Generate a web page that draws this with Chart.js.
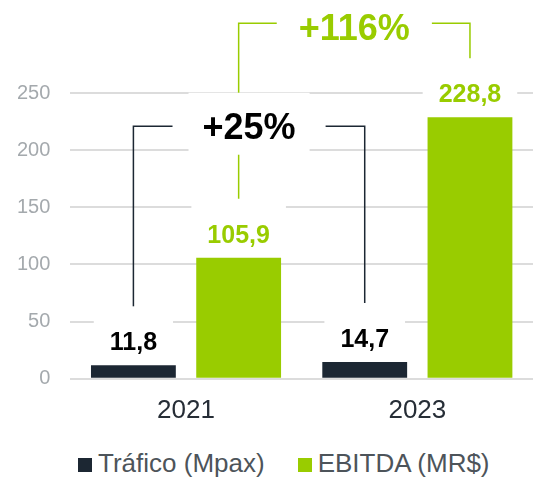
<!DOCTYPE html>
<html>
<head>
<meta charset="utf-8">
<script src="https://cdn.jsdelivr.net/npm/chart.js@4/dist/chart.umd.min.js"></script>
<style>
  html, body { margin: 0; padding: 0; background: #fff; }
  #wrap { position: relative; width: 533px; height: 478px; }
  #chart { position: absolute; left: 0; top: 0; }
  #legend {
    position: absolute; left: 78px; top: 448px;
    display: flex; align-items: center;
    font-family: "Liberation Sans", Arial, sans-serif; font-size: 26px; line-height: 30px;
    color: #4d545a;
  }
  #legend .item { display: flex; align-items: center; }
  #legend .box { width: 14px; height: 14px; margin-right: 6px; position: relative; top: 2px; }
  #legend .item + .item { margin-left: 33px; }
</style>
</head>
<body>
<div id="wrap">
  <canvas id="chart" width="533" height="442"></canvas>
  <div id="legend"></div>
</div>
<script>
// ---- data ----
const years = ['2021', '2023'];
const trafico = [11.8, 14.7];
const ebitda = [105.9, 228.8];
const seriesNames = ['Tráfico (Mpax)', 'EBITDA (MR$)'];
const yTicks = [0, 50, 100, 150, 200, 250];

const DARK = '#1c2733';
const GREEN = '#99cc00';
const FONT = '"Liberation Sans", Arial, sans-serif';

function fmt(v) {
    return v.toFixed(1).replace('.', ',');
}

function growth(arr) {
    return '+' + Math.round((arr[1] / arr[0] - 1) * 100) + '%';
}

// brackets joining the two bars of the same series (y in axis units)
const brackets = [
    { ds: 0, color: DARK, textColor: '#000', leftLeg: 60, rightLeg: 60, top: 221, textY: 210, gap: 30 },
    { ds: 1, color: GREEN, textColor: GREEN, leftLeg: 150, rightLeg: 276, top: 311, textY: 296, gap: 22 }
];

function whiteBox(ctx, x1, y1, x2, y2) {
    ctx.fillStyle = '#fff';
    ctx.fillRect(x1, y1, x2 - x1, y2 - y1);
}

const annotations = {
    id: 'annotations',
    afterDatasetsDraw(chart) {
        const ctx = chart.ctx;
        const y = chart.scales.y;
        ctx.save();

        // bracket lines
        const bracketTexts = [];
        brackets.forEach(b => {
            const bars = chart.getDatasetMeta(b.ds).data;
            const x1 = bars[0].x, x2 = bars[1].x;
            const yt = y.getPixelForValue(b.top);
            const text = growth(chart.data.datasets[b.ds].data);
            ctx.font = 'bold 36px ' + FONT;
            const w = ctx.measureText(text).width;
            const cx = (x1 + x2) / 2;

            ctx.strokeStyle = b.color;
            ctx.lineWidth = 1.5;
            ctx.beginPath();
            ctx.moveTo(x1, y.getPixelForValue(b.leftLeg));
            ctx.lineTo(x1, yt);
            ctx.lineTo(cx - w / 2 - b.gap, yt);
            ctx.moveTo(cx + w / 2 + b.gap, yt);
            ctx.lineTo(x2, yt);
            ctx.lineTo(x2, y.getPixelForValue(b.rightLeg));
            ctx.stroke();

            bracketTexts.push({ text, cx, w, base: y.getPixelForValue(b.textY), color: b.textColor });
        });

        // value labels above the bars
        ctx.textAlign = 'center';
        ctx.textBaseline = 'alphabetic';
        ctx.font = 'bold 25px ' + FONT;
        chart.data.datasets.forEach((ds, i) => {
            chart.getDatasetMeta(i).data.forEach((bar, j) => {
                const text = fmt(ds.data[j]);
                const w = ctx.measureText(text).width;
                const base = bar.y - 15;
                whiteBox(ctx, bar.x - w / 2 - 16, base - 44, bar.x + w / 2 + 16, base + 4);
                ctx.fillStyle = i === 0 ? '#000' : GREEN;
                ctx.fillText(text, bar.x, base);
            });
        });

        // growth labels
        ctx.font = 'bold 36px ' + FONT;
        bracketTexts.forEach(t => {
            whiteBox(ctx, t.cx - t.w / 2 - 14, t.base - 46, t.cx + t.w / 2 + 14, t.base + 16);
            ctx.fillStyle = t.color;
            ctx.fillText(t.text, t.cx, t.base);
        });

        ctx.restore();
    }
};

new Chart(document.getElementById('chart'), {
    type: 'bar',
    data: {
        labels: years,
        datasets: [
            { label: seriesNames[0], data: trafico, backgroundColor: DARK },
            { label: seriesNames[1], data: ebitda, backgroundColor: GREEN }
        ]
    },
    options: {
        responsive: false,
        animation: false,
        barPercentage: 0.806,
        categoryPercentage: 0.91,
        layout: { padding: { top: 93, left: -3, right: 0, bottom: 0 } },
        plugins: {
            legend: { display: false },
            tooltip: { enabled: false }
        },
        scales: {
            x: {
                grid: { display: false, drawTicks: false },
                border: { display: false },
                ticks: { color: '#262d36', font: { family: FONT, size: 26 }, padding: 16 }
            },
            y: {
                min: 0,
                max: 250,
                afterBuildTicks: axis => { axis.ticks = yTicks.map(v => ({ value: v })); },
                grid: { color: '#dcdcdc', lineWidth: 2, drawTicks: false },
                border: { display: false },
                ticks: { color: '#a4a9ad', font: { family: FONT, size: 20 }, padding: 20 }
            }
        }
    },
    plugins: [annotations]
});

// legend
const legend = document.getElementById('legend');
[DARK, GREEN].forEach((c, i) => {
    const item = document.createElement('div');
    item.className = 'item';
    item.innerHTML = '<span class="box" style="background:' + c + '"></span><span>' + seriesNames[i] + '</span>';
    legend.appendChild(item);
});
</script>
</body>
</html>
